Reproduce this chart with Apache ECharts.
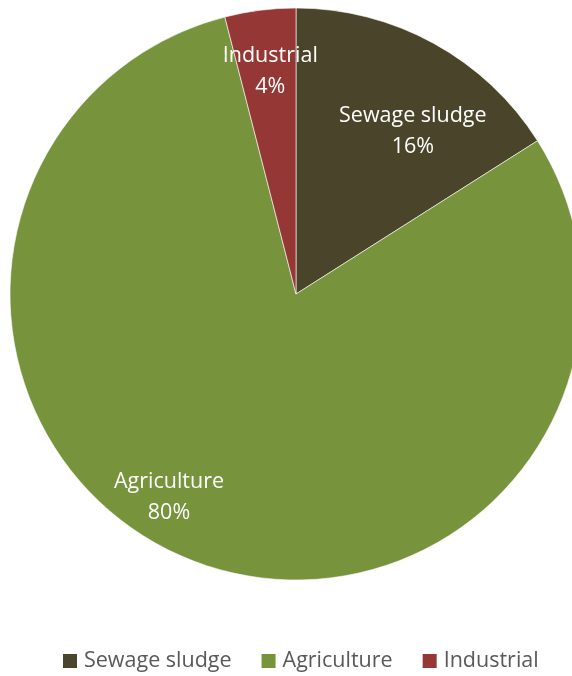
<!DOCTYPE html>
<html>
<head>
<meta charset="utf-8">
<script src="https://cdn.jsdelivr.net/npm/echarts@6/dist/echarts.min.js"></script>
<style>
  html, body { margin: 0; padding: 0; background: #fff; }
  #chart { width: 572px; height: 676px; }
</style>
</head>
<body>
<div id="chart"></div>
<script>
// Sludge sources, share in percent
const categories = ['Sewage sludge', 'Agriculture', 'Industrial'];
const shares = [16, 80, 4];
const colors = ['#4A452A', '#77933C', '#953735'];

// Label placement inside each slice: fraction of radius and angle (deg, clockwise from 12 o'clock)
const labelSpots = [
  { rf: 0.70, deg: 35.7 },
  { rf: 0.838, deg: 212 },
  { rf: 0.782, deg: -6.6 }
];

const FONT = '"Open Sans", sans-serif';
const CX = 296, CY = 294, R = 286;

const chart = echarts.init(document.getElementById('chart'), null, { renderer: 'canvas' });

chart.setOption({
  animation: false,
  legend: {
    bottom: -1,
    left: 56,
    itemWidth: 16,
    itemHeight: 16,
    itemGap: 28,
    icon: 'rect',
    textStyle: { fontFamily: FONT, fontSize: 21.5, color: '#595959', padding: [0, 0, 0, 1] },
    data: categories
  },
  series: [{
    type: 'pie',
    center: [CX, CY],
    radius: [0, R],
    startAngle: 90,
    clockwise: true,
    avoidLabelOverlap: false,
    itemStyle: { borderColor: '#ffffff', borderWidth: 0.6 },
    label: {
      show: true,
      position: 'inside',
      color: '#ffffff',
      fontFamily: FONT,
      fontSize: 21.5,
      lineHeight: 31,
      formatter: p => p.name + '\n' + p.value + '%'
    },
    labelLayout: p => {
      const s = labelSpots[p.dataIndex];
      const a = s.deg * Math.PI / 180;
      return {
        x: CX + s.rf * R * Math.sin(a),
        y: CY - s.rf * R * Math.cos(a),
        align: 'center',
        verticalAlign: 'middle'
      };
    },
    emphasis: { disabled: true },
    data: categories.map((c, i) => ({ name: c, value: shares[i], itemStyle: { color: colors[i] } }))
  }]
});
</script>
</body>
</html>
